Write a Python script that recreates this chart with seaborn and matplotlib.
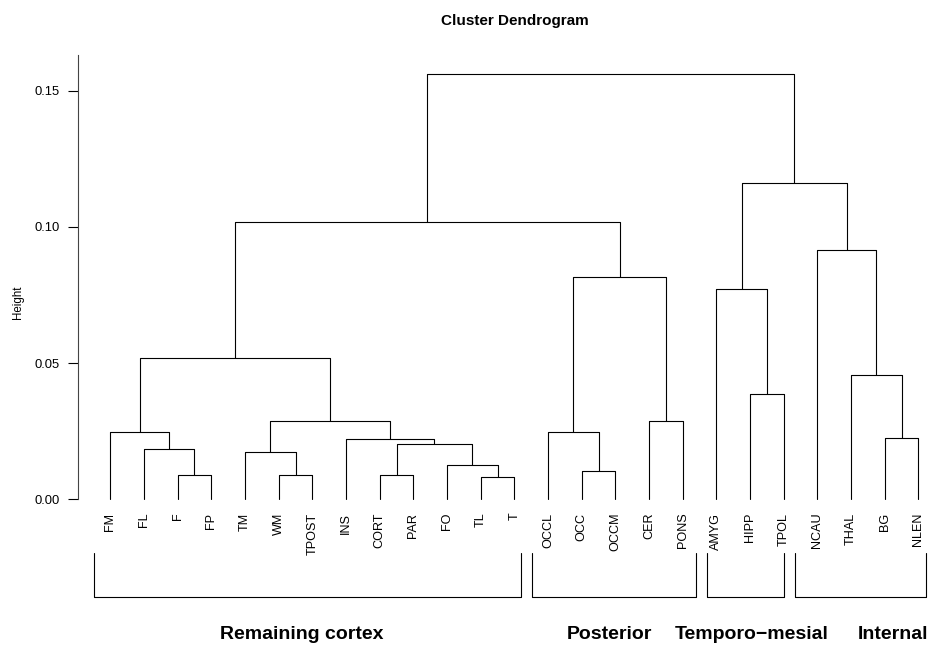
import matplotlib
matplotlib.use("Agg")
import matplotlib.pyplot as plt
import matplotlib.transforms as mtransforms
import numpy as np
import pandas as pd
import seaborn as sns

# ---------------- data ----------------
leaf_labels = ["FM", "FL", "F", "FP", "TM", "WM", "TPOST", "INS", "CORT", "PAR",
               "FO", "TL", "T", "OCCL", "OCC", "OCCM", "CER", "PONS",
               "AMYG", "HIPP", "TPOL", "NCAU", "THAL", "BG", "NLEN"]

# merges (R hclust style): children are leaf names or "nK" (K-th merge, 1-based)
merge_left = ["F", "WM", "TL", "CORT", "OCC", "FO", "TM", "FL", "n4", "INS",
              "BG", "FM", "OCCL", "n7", "CER", "HIPP", "THAL", "n12", "AMYG",
              "n13", "NCAU", "n18", "n19", "n22"]
merge_right = ["FP", "TPOST", "T", "PAR", "OCCM", "n3", "n2", "n1", "n6", "n9",
               "NLEN", "n8", "n5", "n10", "PONS", "TPOL", "n11", "n14", "n16",
               "n15", "n17", "n20", "n21", "n23"]
merge_height = [0.0090, 0.0088, 0.0081, 0.0090, 0.0105, 0.0125, 0.0174, 0.0186,
                0.0202, 0.0221, 0.0225, 0.0246, 0.0247, 0.0287, 0.0286, 0.0386,
                0.0455, 0.0519, 0.0773, 0.0817, 0.0915, 0.1017, 0.1162, 0.1560]

group_names = ["Remaining cortex", "Posterior", "Temporo\u2212mesial", "Internal"]
group_first = ["FM", "OCCL", "AMYG", "NCAU"]
group_last = ["T", "PONS", "TPOL", "NLEN"]

y_ticks = [0.00, 0.05, 0.10, 0.15]
y_tick_labels = ["0.00", "0.05", "0.10", "0.15"]

# ---------------- build segments ----------------
pos = {name: i + 1 for i, name in enumerate(leaf_labels)}
hgt = {name: 0.0 for name in leaf_labels}
rows = []
for k, (l, r, h) in enumerate(zip(merge_left, merge_right, merge_height), start=1):
    xl, xr = pos[l], pos[r]
    hl, hr = hgt[l], hgt[r]
    for x, y in [(xl, hl), (xl, h), (xr, h), (xr, hr)]:
        rows.append({"seg": k, "x": x, "y": y})
    pos[f"n{k}"] = (xl + xr) / 2.0
    hgt[f"n{k}"] = h
seg_df = pd.DataFrame(rows)

# ---------------- style ----------------
sns.set_style("ticks")
plt.rcParams["font.family"] = ["Liberation Sans", "DejaVu Sans"]
plt.rcParams["text.color"] = "black"
plt.rcParams["ytick.color"] = "black"
plt.rcParams["ytick.labelcolor"] = "black"

W, H = 930, 646
fig = plt.figure(figsize=(W / 100, H / 100), dpi=100)

# layout (pixels)
px_left, px_right = 78.0, 950.7
px_top, px_bottom = 55.0, 516.3
ax = fig.add_axes([px_left / W, (H - px_bottom) / H,
                   (px_right - px_left) / W, (px_bottom - px_top) / H])

sns.lineplot(data=seg_df, x="x", y="y", units="seg", estimator=None, sort=False,
             color="black", linewidth=0.8, ax=ax, legend=False)

ax.set_xlim(0.04, 25.96)
ax.set_ylim(-0.00624, 0.1631)
ax.set_xlabel("")
ax.set_ylabel("")
ax.set_xticks([])
ax.set_yticks(y_ticks)
ax.set_yticklabels(y_tick_labels, fontsize=9.4, color="black")
ax.tick_params(axis="y", length=7.2, width=0.8, pad=5.8, colors="black")
for s in ["top", "right", "bottom"]:
    ax.spines[s].set_visible(False)
ax.spines["left"].set_bounds(0.0, 0.1631)
ax.spines["left"].set_linewidth(0.8)
ax.spines["left"].set_color("#444444")

# leaf labels
off = mtransforms.ScaledTranslation(0, -13.4 / 100, fig.dpi_scale_trans)
for i, lab in enumerate(leaf_labels):
    ax.text(i + 1, 0.0, lab, rotation=90, ha="center", va="top", fontsize=9.1,
            color="black", transform=ax.transData + off, clip_on=False)

# group brackets (layout in leaf units)
bracket_pad_left = [0.49, 0.48, 0.27, 0.66]
bracket_pad_right = [0.21, 0.39, 0.02, 0.24]
label_centers = [6.68, 15.81, 20.04, 24.25]
y_br_top, y_br_bot = -0.0197, -0.0358
for gi, name in enumerate(group_names):
    x0 = leaf_labels.index(group_first[gi]) + 1 - bracket_pad_left[gi]
    x1 = leaf_labels.index(group_last[gi]) + 1 + bracket_pad_right[gi]
    ax.plot([x0, x0, x1, x1], [y_br_top, y_br_bot, y_br_bot, y_br_top],
            color="black", linewidth=0.8, clip_on=False)
    ax.text(label_centers[gi], -0.0497, name, ha="center", va="center",
            fontsize=14, fontweight="bold", color="black", clip_on=False)

fig.text(515 / W, 1 - 25 / H, "Cluster Dendrogram", ha="center", va="baseline",
         fontsize=11, fontweight="bold", color="black")
fig.text(18 / W, 1 - 302 / H, "Height", rotation=90, ha="center", va="center",
         fontsize=8.3, color="black")

fig.savefig("out.png", dpi=100)
